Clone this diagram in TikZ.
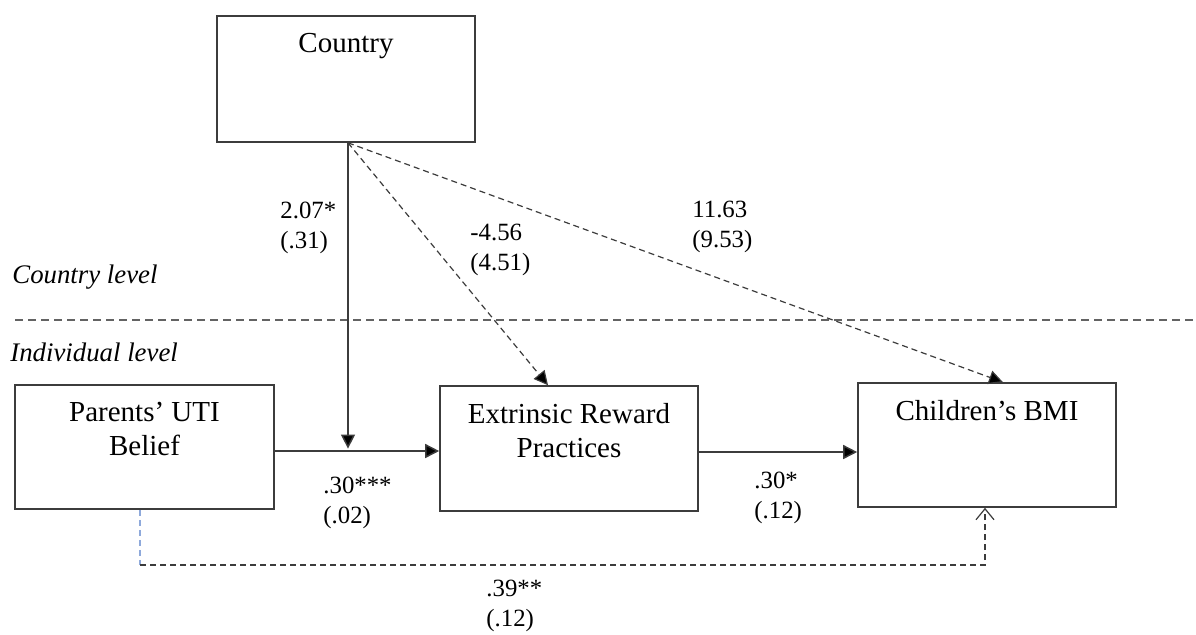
\documentclass[tikz,border=0pt]{standalone}
\usepackage{fontspec}
\setmainfont{Liberation Serif}
\usetikzlibrary{arrows.meta}
\definecolor{lc}{HTML}{3C3C3C}
\definecolor{bl}{HTML}{8EA9DB}
\begin{document}
\begin{tikzpicture}[x=0.5pt,y=-0.5pt,
  box/.style={draw=lc, line width=0.8pt, minimum width=129pt, minimum height=62.5pt, inner sep=0pt},
  boxtext/.style={anchor=north, inner sep=0pt, yshift=-9pt, align=center,
     font=\fontsize{14.5pt}{17pt}\selectfont},
  coef/.style={anchor=west, inner sep=0pt, align=left, font=\fontsize{12.4pt}{15pt}\selectfont},
  lvl/.style={anchor=west, inner sep=0pt, font=\fontsize{13.4pt}{16pt}\selectfont\itshape},
  solidarr/.style={draw=lc, line width=0.75pt, -{Triangle[length=7pt,width=7pt,fill=black]}},
  dasharr/.style={draw=lc, line width=0.6pt, dash pattern=on 3pt off 2pt, -{Triangle[length=7pt,width=7pt,fill=black]}},
  openarr/.style={draw=lc, line width=0.6pt, dash pattern=on 3pt off 2pt, -{Straight Barb[length=5.5pt,width=9pt,line width=0.6pt]}},
]
\useasboundingbox (0,0) rectangle (1196,634);

% boxes
\node[box, minimum height=63pt] (country) at (346,79) {};
\node[boxtext] at (country.north) {Country};
\node[box, minimum height=62pt, minimum width=129.5pt] (parents) at (144.5,447) {};
\node[boxtext] at (parents.north) {Parents’ UTI\\Belief};
\node[box] (extrinsic) at (569,448.5) {};
\node[boxtext] at (extrinsic.north) {Extrinsic Reward\\Practices};
\node[box, minimum height=62pt] (children) at (987,445) {};
\node[boxtext] at (children.north) {Children’s BMI};

% level separator
\coordinate (dl) at (15,320);
\coordinate (dr) at (1196,320);
\draw[draw=lc!80, line width=0.6pt, dash pattern=on 4pt off 2.5pt] (dl) -- (dr);
\node[lvl] (cl) at (12,277) {Country level};
\node[lvl] (il) at (10,352) {Individual level};

% connectors
\coordinate (cs) at ([xshift=1pt]country.south);
\coordinate (m) at (348,451);
\draw[solidarr] (parents.east |- m) -- (extrinsic.west |- m);
\draw[solidarr] (cs) -- ([yshift=1.2pt]m);
\draw[solidarr] ([yshift=-1.75pt]extrinsic.east) -- ([yshift=-1.75pt]extrinsic.east -| children.west);
\draw[dasharr] (cs) -- ([xshift=-10.5pt]extrinsic.north);
\draw[dasharr] (cs) -- ([xshift=8pt]children.north);

\coordinate (b1) at ([xshift=-2.25pt]parents.south |- 0,565);
\coordinate (b2) at ([xshift=-1pt]children.south |- 0,565);
\draw[draw=bl, line width=0.6pt, dash pattern=on 3pt off 2pt] ([xshift=-2.25pt]parents.south) -- (b1);
\draw[openarr] (b1) -- (b2) -- ([xshift=-1pt]children.south);

% coefficients
\node[coef] (c1) at (280,228) {2.07*\\(.31)};
\node[coef] (c2) at (470,250) {-4.56\\(4.51)};
\node[coef] (c3) at (692,227) {11.63\\(9.53)};
\node[coef] (c4) at (323,503) {.30***\\(.02)};
\node[coef] (c5) at (754,498) {.30*\\(.12)};
\node[coef] (c6) at (486,606) {.39**\\(.12)};
\end{tikzpicture}
\end{document}
